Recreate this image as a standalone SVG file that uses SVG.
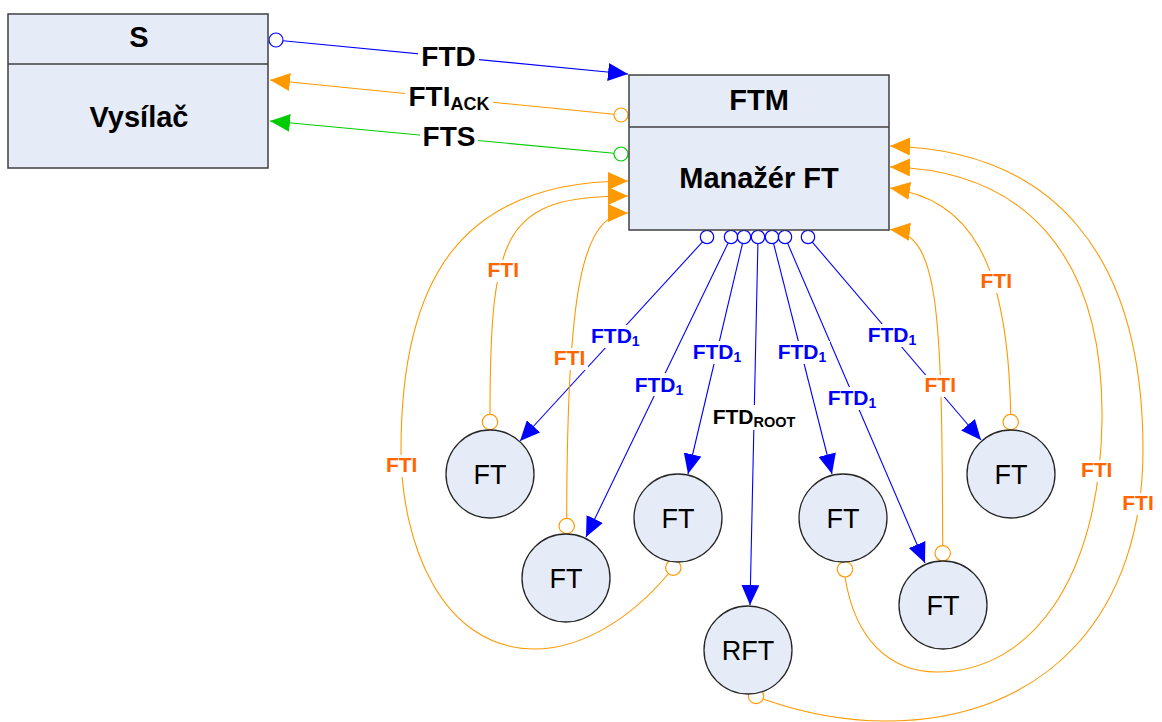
<svg xmlns="http://www.w3.org/2000/svg" width="1162" height="722" viewBox="0 0 1162 722">
<style>
text{font-family:"Liberation Sans",Arial,sans-serif;font-weight:bold}
.box{fill:#E6ECF7;stroke:#404040;stroke-width:1.5}
.node{fill:#E6ECF7;stroke:#262626;stroke-width:1.3}
.nt{font-weight:normal;font-size:27px;fill:#000}
.bt{font-size:29px;fill:#000}
.bl{fill:none;stroke:#0000FF;stroke-width:1.1}
.or{fill:none;stroke:#FF9900;stroke-width:1.1}
.gr{fill:none;stroke:#00CC00;stroke-width:1.1}
.cb{fill:none;stroke:#0000FF;stroke-width:1.2}
.co{fill:none;stroke:#FF9900;stroke-width:1.2}
.cg{fill:none;stroke:#00CC00;stroke-width:1.2}
.lb{fill:#fff}
.t1{font-size:21px;fill:#0000FF}
.fti{font-size:21px;fill:#FF6600}
.big{font-size:28px;fill:#000}
</style>
<defs>
<marker id="ab" markerUnits="userSpaceOnUse" markerWidth="20" markerHeight="18" refX="20" refY="9" orient="auto" viewBox="0 0 20 18"><path d="M0,0L20,9L0,18z" fill="#0000FF"/></marker>
<marker id="ao" markerUnits="userSpaceOnUse" markerWidth="20" markerHeight="18" refX="20" refY="9" orient="auto" viewBox="0 0 20 18"><path d="M0,0L20,9L0,18z" fill="#FF9900"/></marker>
<marker id="ag" markerUnits="userSpaceOnUse" markerWidth="20" markerHeight="18" refX="20" refY="9" orient="auto" viewBox="0 0 20 18"><path d="M0,0L20,9L0,18z" fill="#00CC00"/></marker>
</defs>

<g id="connectors">
<line class="bl" x1="283" y1="40.7" x2="628" y2="74" marker-end="url(#ab)"/>
<line class="or" x1="614" y1="114.3" x2="270" y2="80" marker-end="url(#ao)"/>
<line class="gr" x1="614" y1="153.3" x2="270" y2="121" marker-end="url(#ag)"/>
<circle class="cb" cx="276" cy="40" r="7"/>
<circle class="co" cx="621" cy="115" r="7"/>
<circle class="cg" cx="621" cy="154" r="7"/>

<line class="bl" x1="702.5" y1="241.9" x2="520" y2="441" marker-end="url(#ab)"/>
<line class="bl" x1="728.1" y1="243" x2="586" y2="537" marker-end="url(#ab)"/>
<line class="bl" x1="742.5" y1="243.5" x2="688" y2="474" marker-end="url(#ab)"/>
<line class="bl" x1="757.9" y1="243.7" x2="750" y2="605" marker-end="url(#ab)"/>
<line class="bl" x1="773.6" y1="243.5" x2="832" y2="474" marker-end="url(#ab)"/>
<line class="bl" x1="787.6" y1="243.2" x2="925" y2="563" marker-end="url(#ab)"/>
<line class="bl" x1="812.3" y1="242.1" x2="981" y2="440" marker-end="url(#ab)"/>
<circle class="cb" cx="707" cy="237" r="6.7"/>
<circle class="cb" cx="731" cy="237" r="6.7"/>
<circle class="cb" cx="744" cy="237" r="6.7"/>
<circle class="cb" cx="758" cy="237" r="6.7"/>
<circle class="cb" cx="772" cy="237" r="6.7"/>
<circle class="cb" cx="785" cy="237" r="6.7"/>
<circle class="cb" cx="808" cy="237" r="6.7"/>

<path class="or" d="M490,414.5 C490,230 505,196 628,196" marker-end="url(#ao)"/>
<path class="or" d="M566.7,518.3 C567,300 580,213 628,213" marker-end="url(#ao)"/>
<path class="or" d="M669,573 C630,620 580,649 535,649 C440,649 401,540 401,450 C401,280 460,181 628,181" marker-end="url(#ao)"/>
<path class="or" d="M1010.7,414.3 C1008,260 970,200 890,188" marker-end="url(#ao)"/>
<path class="or" d="M942.7,545.6 C942,300 938,235 890,229.5" marker-end="url(#ao)"/>
<path class="or" d="M845,577 C855,640 890,672 937,672 C1030,672 1100,580 1102,420 C1104,250 1020,170 890,167" marker-end="url(#ao)"/>
<path class="or" d="M763,699 C800,712 840,721 885,721 C1050,721 1143,610 1143,450 C1143,250 1050,150 890,146" marker-end="url(#ao)"/>
<circle class="co" cx="490" cy="422" r="7.7"/>
<circle class="co" cx="566.7" cy="526" r="7.7"/>
<circle class="co" cx="673.3" cy="567.7" r="7.7"/>
<circle class="co" cx="756" cy="696" r="7.7"/>
<circle class="co" cx="845" cy="569.3" r="7.7"/>
<circle class="co" cx="942.7" cy="553.3" r="7.7"/>
<circle class="co" cx="1010.7" cy="422" r="7.7"/>

<rect class="lb" x="418" y="44" width="61" height="25"/>
<text class="big" x="448.5" y="65.5" text-anchor="middle">FTD</text>
<rect class="lb" x="405" y="84" width="88" height="28"/>
<text class="big" x="449" y="106" text-anchor="middle">FTI<tspan font-size="18" dy="4">ACK</tspan></text>
<rect class="lb" x="420" y="124" width="58" height="25"/>
<text class="big" x="449" y="146" text-anchor="middle">FTS</text>

<rect class="lb" x="588" y="325" width="55" height="23"/>
<text class="t1" x="615.3" y="343" text-anchor="middle">FTD<tspan font-size="14" dy="3">1</tspan></text>
<rect class="lb" x="632" y="373" width="55" height="23"/>
<text class="t1" x="659" y="391.5" text-anchor="middle">FTD<tspan font-size="14" dy="3">1</tspan></text>
<rect class="lb" x="690" y="341" width="55" height="23"/>
<text class="t1" x="717" y="359.3" text-anchor="middle">FTD<tspan font-size="14" dy="3">1</tspan></text>
<rect class="lb" x="775" y="341" width="55" height="23"/>
<text class="t1" x="802" y="359.3" text-anchor="middle">FTD<tspan font-size="14" dy="3">1</tspan></text>
<rect class="lb" x="825" y="387" width="55" height="23"/>
<text class="t1" x="852" y="405" text-anchor="middle">FTD<tspan font-size="14" dy="3">1</tspan></text>
<rect class="lb" x="865" y="324" width="55" height="23"/>
<text class="t1" x="892" y="342" text-anchor="middle">FTD<tspan font-size="14" dy="3">1</tspan></text>
<rect class="lb" x="709" y="405" width="90" height="25"/>
<text x="754" y="424" text-anchor="middle" font-size="21" fill="#000">FTD<tspan font-size="14.5" dy="3">ROOT</tspan></text>

<rect class="lb" x="485" y="260" width="37" height="22"/>
<text class="fti" x="503.3" y="277" text-anchor="middle">FTI</text>
<rect class="lb" x="551" y="348" width="37" height="22"/>
<text class="fti" x="569.5" y="365" text-anchor="middle">FTI</text>
<rect class="lb" x="383" y="455" width="37" height="22"/>
<text class="fti" x="401.7" y="471.7" text-anchor="middle">FTI</text>
<rect class="lb" x="978" y="271" width="37" height="22"/>
<text class="fti" x="996.3" y="287.7" text-anchor="middle">FTI</text>
<rect class="lb" x="922" y="375" width="37" height="22"/>
<text class="fti" x="940.3" y="391.7" text-anchor="middle">FTI</text>
<rect class="lb" x="1078" y="460" width="37" height="22"/>
<text class="fti" x="1096.7" y="476.7" text-anchor="middle">FTI</text>
<rect class="lb" x="1120" y="493" width="37" height="22"/>
<text class="fti" x="1138" y="510" text-anchor="middle">FTI</text>
</g>

<g id="S">
<rect class="box" x="8" y="14" width="260" height="154"/>
<line x1="8" y1="64" x2="268" y2="64" stroke="#404040" stroke-width="1.5"/>
<text class="bt" x="139" y="47" text-anchor="middle">S</text>
<text class="bt" x="139" y="127" text-anchor="middle">Vysílač</text>
</g>

<g id="FTM">
<rect class="box" x="629" y="75" width="260" height="155"/>
<line x1="629" y1="127" x2="889" y2="127" stroke="#404040" stroke-width="1.5"/>
<text class="bt" x="759" y="110" text-anchor="middle">FTM</text>
<text class="bt" x="759" y="188" text-anchor="middle">Manažér FT</text>
</g>

<g id="FT1"><circle class="node" cx="490" cy="474" r="44"/><text class="nt" x="490" y="484" text-anchor="middle">FT</text></g>
<g id="FT2"><circle class="node" cx="566" cy="578" r="44"/><text class="nt" x="566" y="588" text-anchor="middle">FT</text></g>
<g id="FT3"><circle class="node" cx="678" cy="518" r="44"/><text class="nt" x="678" y="528" text-anchor="middle">FT</text></g>
<g id="RFT"><circle class="node" cx="748" cy="650" r="44"/><text class="nt" x="748" y="660" text-anchor="middle" font-size="28">RFT</text></g>
<g id="FT4"><circle class="node" cx="843" cy="518" r="44"/><text class="nt" x="843" y="528" text-anchor="middle">FT</text></g>
<g id="FT5"><circle class="node" cx="943" cy="605" r="44"/><text class="nt" x="943" y="615" text-anchor="middle">FT</text></g>
<g id="FT6"><circle class="node" cx="1011" cy="474" r="44"/><text class="nt" x="1011" y="484" text-anchor="middle">FT</text></g>
</svg>
